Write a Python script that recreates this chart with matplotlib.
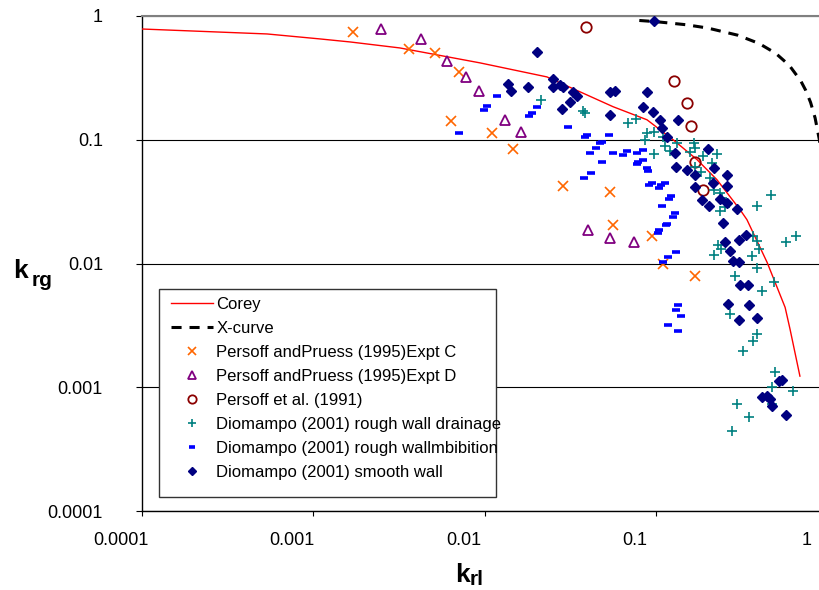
import matplotlib
matplotlib.use("Agg")
import matplotlib.pyplot as plt
from matplotlib.patches import Rectangle
from matplotlib.transforms import ScaledTranslation
from matplotlib.ticker import FixedLocator, NullLocator

plt.rcParams['font.family'] = ['Liberation Sans', 'DejaVu Sans']

# ==========================================
# Data (krl, krg)
# ==========================================
TICKS = [1e-4, 1e-3, 1e-2, 1e-1, 1]
TICK_LABELS = ['0.0001', '0.001', '0.01', '0.1', '1']

COREY_KRL = [1e-4, 5.37e-4, 1.09e-3, 1.64e-3, 3.2e-3, 9.4e-3, 0.0231, 0.0562, 0.0887,
             0.126, 0.174, 0.227, 0.310, 0.340, 0.446, 0.568, 0.607, 0.693]
COREY_KRG = [0.785, 0.716, 0.653, 0.617, 0.552, 0.418, 0.322, 0.185, 0.145,
             0.100, 0.069, 0.0476, 0.0272, 0.0226, 0.0102, 0.00442, 0.00294, 0.00123]

XCURVE_KRL = [0.08, 0.1, 0.15, 0.2, 0.3, 0.4, 0.5, 0.6, 0.7, 0.75, 0.8, 0.85, 0.9, 0.93, 0.96]
XCURVE_KRG = [0.92, 0.9, 0.85, 0.8, 0.7, 0.6, 0.5, 0.4, 0.3, 0.25, 0.2, 0.15, 0.1, 0.07, 0.04]

EXPT_C_KRL = [1.71e-3, 3.62e-3, 5.13e-3, 7.09e-3, 6.37e-3, 0.0110, 0.0147, 0.0287, 0.0540,
              0.0562, 0.0949, 0.110, 0.169]
EXPT_C_KRG = [0.743, 0.542, 0.503, 0.353, 0.142, 0.114, 0.0846, 0.0426, 0.0381,
              0.0206, 0.0168, 0.0100, 0.00786]

EXPT_D_KRL = [2.48e-3, 4.25e-3, 6.03e-3, 7.79e-3, 9.27e-3, 0.0131, 0.0163, 0.0402, 0.0540, 0.0745]
EXPT_D_KRG = [0.786, 0.653, 0.434, 0.322, 0.248, 0.145, 0.116, 0.0185, 0.0162, 0.0148]

P1991_KRL = [0.0391, 0.128, 0.152, 0.160, 0.169, 0.188]
P1991_KRG = [0.815, 0.299, 0.199, 0.130, 0.0665, 0.0395]

DRAIN_KRL = [0.0213, 0.0375, 0.0385, 0.0687, 0.0766, 0.0887, 0.0975, 0.0864, 0.110, 0.113,
             0.121, 0.0975, 0.133, 0.167, 0.169, 0.158, 0.188, 0.227, 0.169, 0.183,
             0.213, 0.207, 0.218, 0.237, 0.243, 0.253, 0.237, 0.389, 0.470, 0.369,
             0.389, 0.400, 0.364, 0.231, 0.218, 0.240, 0.389, 0.290, 0.489, 0.416,
             0.575, 0.657, 0.271, 0.389, 0.369, 0.322, 0.496, 0.476, 0.631, 0.298,
             0.457, 0.476, 0.349, 0.278]
DRAIN_KRG = [0.210, 0.171, 0.165, 0.137, 0.148, 0.114, 0.116, 0.100, 0.106, 0.0895,
             0.0815, 0.0771, 0.0946, 0.0946, 0.0861, 0.0800, 0.0743, 0.0771, 0.0606, 0.0552,
             0.0653, 0.0494, 0.0395, 0.0374, 0.0340, 0.0288, 0.0267, 0.0294, 0.0360, 0.0168,
             0.0153, 0.0130, 0.0116, 0.0140, 0.0118, 0.0130, 0.00912, 0.00786, 0.00703, 0.00594,
             0.0150, 0.0168, 0.00388, 0.00268, 0.00235, 0.00195, 0.00132, 0.00100, 0.000929, 0.000729,
             0.000800, 0.000729, 0.000573, 0.000442]

IMBIB_KRL = [7.09e-3, 0.0103, 0.00991, 0.0118, 0.0202, 0.0189, 0.0182, 0.0307, 0.0396, 0.0385,
             0.0532, 0.0485, 0.0472, 0.0447, 0.0412, 0.0562, 0.0678, 0.0643, 0.0776, 0.0841,
             0.0485, 0.0786, 0.0776, 0.0841, 0.0887, 0.0899, 0.0418, 0.0380, 0.0949, 0.0911,
             0.107, 0.104, 0.113, 0.123, 0.119, 0.109, 0.129, 0.126, 0.116, 0.115,
             0.104, 0.103, 0.131, 0.118, 0.110, 0.135, 0.131, 0.140, 0.118, 0.135]
IMBIB_KRG = [0.114, 0.188, 0.175, 0.226, 0.185, 0.165, 0.156, 0.127, 0.110, 0.106,
             0.110, 0.0964, 0.0946, 0.0861, 0.0785, 0.0785, 0.0815, 0.0757, 0.0785, 0.0830,
             0.0665, 0.0665, 0.0640, 0.0690, 0.0595, 0.0562, 0.0542, 0.0494, 0.0450, 0.0434,
             0.0434, 0.0410, 0.0450, 0.0353, 0.0334, 0.0294, 0.0258, 0.0239, 0.0210, 0.0203,
             0.0185, 0.0178, 0.0125, 0.0112, 0.0102, 0.00458, 0.00418, 0.00374, 0.00316, 0.00283]

SMOOTH_KRL = [0.0202, 0.0975, 0.0137, 0.0143, 0.0179, 0.0251, 0.0251, 0.0275, 0.0287, 0.0328,
              0.0346, 0.0315, 0.0283, 0.0540, 0.0577, 0.0540, 0.0887, 0.0841, 0.0962, 0.106,
              0.109, 0.135, 0.116, 0.129, 0.201, 0.218, 0.131, 0.152, 0.169, 0.260,
              0.216, 0.169, 0.260, 0.186, 0.204, 0.237, 0.260, 0.298, 0.246, 0.336,
              0.306, 0.253, 0.271, 0.282, 0.306, 0.310, 0.345, 0.264, 0.349, 0.306,
              0.389, 0.523, 0.545, 0.416, 0.445, 0.464, 0.476, 0.575]
SMOOTH_KRG = [0.513, 0.911, 0.283, 0.248, 0.268, 0.310, 0.268, 0.278, 0.268, 0.244,
              0.226, 0.202, 0.178, 0.244, 0.248, 0.159, 0.244, 0.185, 0.168, 0.145,
              0.125, 0.145, 0.106, 0.0785, 0.0846, 0.0595, 0.0606, 0.0573, 0.0522, 0.0522,
              0.0450, 0.0418, 0.0426, 0.0328, 0.0294, 0.0334, 0.0310, 0.0278, 0.0214, 0.0171,
              0.0156, 0.0148, 0.0127, 0.0104, 0.0102, 0.00665, 0.00665, 0.00467, 0.00458, 0.00347,
              0.00360, 0.00112, 0.00114, 0.000830, 0.000846, 0.000800, 0.000703, 0.000594]

# ==========================================
# Figure
# ==========================================
W, H = 820, 590
fig = plt.figure(figsize=(W / 100, H / 100), dpi=100)
# plot area runs a little past the right edge of the picture (x = 1 sits off-canvas)
ax = fig.add_axes([142 / W, 1 - 511 / H, (827.2 - 142) / W, (511 - 16) / H])
ax.set_xscale('log')
ax.set_yscale('log')
ax.set_xlim(1e-4, 1)
ax.set_ylim(1e-4, 1)

ax.plot(COREY_KRL, COREY_KRG, color='#FF0000', lw=1.0, label='Corey', zorder=3)
ax.plot(XCURVE_KRL, XCURVE_KRG, color='black', lw=2.2, dashes=(3.3, 2.6),
        label='X-curve', zorder=3)
ax.plot(EXPT_C_KRL, EXPT_C_KRG, ls='none', marker='x', ms=6.5, mew=1.2, color='#FF6600',
        label='Persoff andPruess (1995)Expt C', zorder=4)
ax.plot(EXPT_D_KRL, EXPT_D_KRG, ls='none', marker='^', ms=6.5, mew=1.3, mfc='none',
        mec='#800080', label='Persoff andPruess (1995)Expt D', zorder=4)
ax.plot(P1991_KRL, P1991_KRG, ls='none', marker='o', ms=7.5, mew=1.3, mfc='none',
        mec='#8B0000', label='Persoff et al. (1991)', zorder=4)
ax.plot(DRAIN_KRL, DRAIN_KRG, ls='none', marker='+', ms=7, mew=1.2, color='#008080',
        label='Diomampo (2001) rough wall drainage', zorder=4)
ax.plot(IMBIB_KRL, IMBIB_KRG, ls='none', marker='_', ms=5.5, mew=2.6, color='#0000FF',
        label='Diomampo (2001) rough wallmbibition', zorder=4)
ax.plot(SMOOTH_KRL, SMOOTH_KRG, ls='none', marker='D', ms=5, color='#000080',
        label='Diomampo (2001) smooth wall', zorder=4)

# axes styling
ax.xaxis.set_major_locator(FixedLocator(TICKS))
ax.yaxis.set_major_locator(FixedLocator(TICKS))
ax.xaxis.set_minor_locator(NullLocator())
ax.yaxis.set_minor_locator(NullLocator())
ax.set_xticklabels(TICK_LABELS)
ax.set_yticklabels(TICK_LABELS)
ax.tick_params(axis='y', direction='out', length=4.3, width=0.8, pad=23.8, labelsize=13)
ax.tick_params(axis='x', direction='out', length=3.6, width=0.8, pad=11.5, labelsize=13)
ax.yaxis.grid(True, color='black', lw=0.8)
ax.xaxis.grid(False)
ax.spines['right'].set_visible(False)
ax.spines['top'].set_color('#808080')
ax.spines['top'].set_linewidth(1.5)
ax.spines['left'].set_linewidth(1.0)
ax.spines['bottom'].set_linewidth(1.0)

# Excel puts the x labels a bit left of their ticks
shift = ScaledTranslation(-0.21, 0, fig.dpi_scale_trans)
for tick in ax.xaxis.get_major_ticks():
    tick.label1.set_transform(tick.label1.get_transform() + shift)

# axis titles (k with a subscript)
fig.text(13 / W, 1 - 278 / H, 'k', fontsize=19, fontweight='bold', ha='left', va='baseline')
fig.text(32 / W, 1 - 286 / H, 'rg', fontsize=15, fontweight='bold', ha='left', va='baseline')
fig.text(455 / W, 1 - 582 / H, 'k', fontsize=19, fontweight='bold', ha='left', va='baseline')
fig.text(470 / W, 1 - 585 / H, 'rl', fontsize=15, fontweight='bold', ha='left', va='baseline')

# legend: frame drawn separately, text runs past it as in the original
fig.add_artist(Rectangle((159 / W, 1 - 497 / H), 337 / W, 208 / H, transform=fig.transFigure,
                         facecolor='white', edgecolor='#333333', lw=1.0, zorder=4))
handles, labels = ax.get_legend_handles_labels()
fig.legend(handles, labels, loc='upper left', bbox_to_anchor=(171 / W, 1 - 297 / H),
           frameon=False, fontsize=12, handlelength=2.5, handletextpad=0.22,
           labelspacing=0.54, borderpad=0, borderaxespad=0, markerscale=0.8)

fig.savefig('out.png', dpi=100)
